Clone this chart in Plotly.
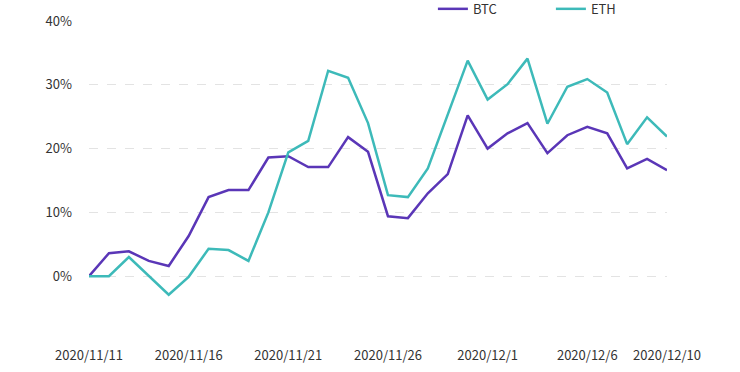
import plotly.graph_objects as go
import pandas as pd

dates = pd.date_range("2020-11-11", "2020-12-10", freq="D").strftime("%Y-%m-%d").tolist()

btc = [0.0, 3.6, 3.9, 2.4, 1.6, 6.3, 12.4, 13.5, 13.5, 18.6,
       18.8, 17.1, 17.1, 21.8, 19.5, 9.4, 9.1, 13.0, 16.0, 25.2,
       20.0, 22.4, 24.0, 19.3, 22.1, 23.4, 22.4, 16.9, 18.4, 16.6]

eth = [0.0, 0.0, 3.0, 0.1, -2.9, -0.1, 4.3, 4.1, 2.4, 10.0,
       19.4, 21.2, 32.2, 31.1, 24.0, 12.7, 12.4, 16.9, 25.3, 33.8,
       27.7, 30.1, 34.1, 23.9, 29.7, 30.9, 28.8, 20.7, 24.9, 21.9]

x_tick_vals = ["2020-11-11", "2020-11-16", "2020-11-21", "2020-11-26",
               "2020-12-01", "2020-12-06", "2020-12-10"]
x_tick_text = ["2020/11/11", "2020/11/16", "2020/11/21", "2020/11/26",
               "2020/12/1", "2020/12/6", "2020/12/10"]

y_tick_vals = [-10, 0, 10, 20, 30, 40]
y_tick_text = ["", "0%", "10%", "20%", "30%", "40%"]

FONT = "Noto Sans CJK SC, Noto Sans, sans-serif"

fig = go.Figure()
fig.add_trace(go.Scatter(x=dates, y=btc, name="BTC", mode="lines",
                         line=dict(color="#5a36b7", width=2.5)))
fig.add_trace(go.Scatter(x=dates, y=eth, name="ETH", mode="lines",
                         line=dict(color="#3dbab9", width=2.5)))

fig.update_layout(
    width=740, height=372,
    margin=dict(l=89, r=73, t=21, b=32, autoexpand=False),
    paper_bgcolor="white", plot_bgcolor="white",
    font=dict(family=FONT, size=13, color="#333333"),
    showlegend=True,
    legend=dict(orientation="h", xref="container", x=0.585, xanchor="left",
                yref="paper", y=1.085, yanchor="top",
                entrywidth=73, entrywidthmode="pixels",
                font=dict(size=13, color="#333333"), bgcolor="rgba(0,0,0,0)",
                itemwidth=30, borderwidth=0),
    xaxis=dict(type="date", range=[dates[0], dates[-1]],
               tickvals=x_tick_vals, ticktext=x_tick_text, automargin=False,
               showgrid=False, zeroline=False, showline=False, ticks="",
               ticklabelstandoff=6,
               tickfont=dict(size=13, color="#333333")),
    yaxis=dict(range=[-10, 40], tickvals=y_tick_vals, ticktext=y_tick_text,
               automargin=False, ticklabelstandoff=16,
               showgrid=True, gridcolor="#e3e3e3", griddash="dash", gridwidth=1,
               zeroline=False, showline=False, ticks="",
               tickfont=dict(size=13, color="#333333")),
)

fig.write_html("out.html", config={"displayModeBar": False},
               post_script="document.body.style.margin='0';")
